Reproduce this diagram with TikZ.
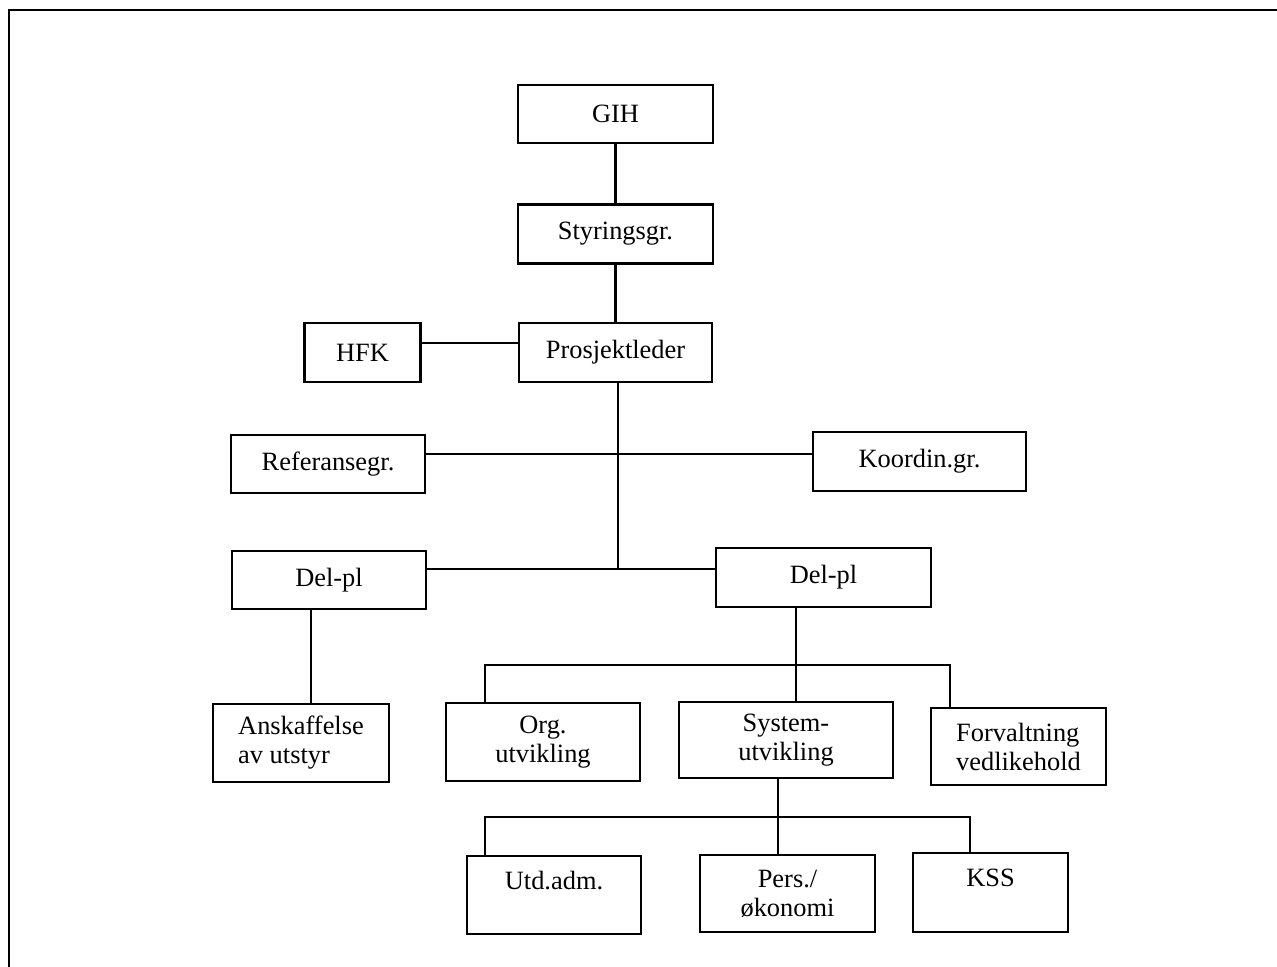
\documentclass[tikz,border=0pt]{standalone}
\usepackage{fontspec}
\setmainfont{Liberation Serif}
\usepackage{tikz}
\usetikzlibrary{positioning}

\begin{document}
\begin{tikzpicture}
[
x=0.5pt, y=-0.5pt,
box-a/.style={rectangle,draw,line width=1.2pt,inner sep=1pt,align=center,
  font=\fontsize{13.2}{14.5}\selectfont},
box-b/.style={box-a,align=left},
line-a/.style={line width=1.1pt},
]
\useasboundingbox (0,0) rectangle (1277,967);
\draw [line width=1pt] (8.5,967) -- (8.5,10) -- (1277,10);

\node (gih)   [box-a, minimum width=97.5pt, minimum height=29pt] at (615.5,114) {GIH};
\node (styr)  [box-a, minimum width=97.5pt, minimum height=29.5pt, below = 10.4mm of gih] {Styringsgr.};
\node (prosj) [box-a, minimum width=96.5pt, minimum height=29.5pt, below = 10mm of styr] {Prosjektleder};
\node (hfk)   [box-a, minimum width=58pt, minimum height=29.5pt, left = 16.9mm of prosj] {HFK};
\node (ref)   [box-a, minimum width=97pt, minimum height=29pt] at (328,464) {Referansegr.};
\node (koord) [box-a, minimum width=106.5pt, minimum height=29.5pt] at (919.5,461.5) {Koordin.gr.};
\node (delL)  [box-a, minimum width=97pt, minimum height=29pt] at (329,580) {Del-pl};
\node (delR)  [box-a, minimum width=107.5pt, minimum height=29.5pt] at (823.5,577.5) {Del-pl};
\node (ansk)  [box-b, minimum width=88pt, minimum height=39pt] at (301,743) {Anskaffelse\\av utstyr};
\node (org)   [box-a, minimum width=97pt, minimum height=39pt] at (543,742) {Org.\\utvikling};
\node (sys)   [box-a, minimum width=107pt, minimum height=38pt] at (786,740) {System-\\utvikling};
\node (forv)  [box-b, minimum width=87.5pt, minimum height=38.5pt] at (1018.5,746.5) {Forvaltning\\vedlikehold};
\node (utd)   [box-a, minimum width=87pt, minimum height=39pt] at (554,895) {Utd.adm.\\ \mbox{}};
\node (pers)  [box-a, minimum width=87.5pt, minimum height=38.5pt] at (787.5,893.5) {Pers./\\økonomi};
\node (kss)   [box-a, minimum width=77.5pt, minimum height=39.5pt] at (990.5,892.5) {KSS\\ \mbox{}};

\coordinate (hub) at (618,569);
\coordinate (dl)  at (311,0);
\coordinate (b1)  at (796,665);
\coordinate (b1l) at (485,665);
\coordinate (b1r) at (950,665);
\coordinate (b2)  at (778,817);
\coordinate (b2l) at (485,817);
\coordinate (b2r) at (970,817);

\draw [line-a] (gih.south) -- (styr.north);
\draw [line-a] (styr.south) -- (prosj.north);
\draw [line-a] ([yshift=4.5pt]hfk.east) -- ([yshift=4.5pt]hfk.east -| prosj.west);
\draw [line-a] (prosj.south -| hub) -- (hub);
\draw [line-a] ([yshift=5pt]ref.east) -- ([yshift=5pt]ref.east -| koord.west);
\draw [line-a] (delL.east |- hub) -- (delR.west |- hub);
\draw [line-a] (delL.south -| dl) -- (ansk.north -| dl);
\draw [line-a] (delR.south -| b1) -- (sys.north -| b1);
\draw [line-a] (org.north -| b1l) -- (b1l) -- (b1r) -- (forv.north -| b1r);
\draw [line-a] (sys.south -| b2) -- (pers.north -| b2);
\draw [line-a] (utd.north -| b2l) -- (b2l) -- (b2r) -- (kss.north -| b2r);
\end{tikzpicture}
\end{document}
